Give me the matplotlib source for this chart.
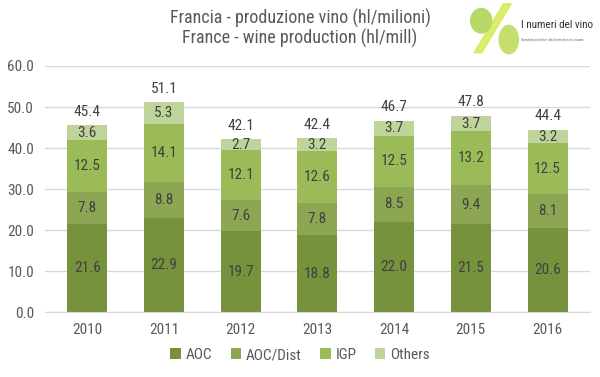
import matplotlib
matplotlib.use('Agg')
import matplotlib.pyplot as plt
from matplotlib.patches import Ellipse, Polygon
import numpy as np

# dati
years = ['2010', '2011', '2012', '2013', '2014', '2015', '2016']
aoc = [21.6, 22.9, 19.7, 18.8, 22.0, 21.5, 20.6]
aoc_dist = [7.8, 8.8, 7.6, 7.8, 8.5, 9.4, 8.1]
igp = [12.5, 14.1, 12.1, 12.6, 12.5, 13.2, 12.5]
others = [3.6, 5.3, 2.7, 3.2, 3.7, 3.7, 3.2]
totals = [45.4, 51.1, 42.1, 42.4, 46.7, 47.8, 44.4]

series = [('AOC', aoc, '#76923C'), ('AOC/Dist', aoc_dist, '#8CA653'),
          ('IGP', igp, '#9BBB59'), ('Others', others, '#BFD49B')]

plt.rcParams['font.family'] = ['Roboto Condensed', 'DejaVu Sans']
txt = '#404040'

fig = plt.figure(figsize=(6, 3.77), dpi=100)
ax = fig.add_axes([0.075, 0.172, 0.908, 0.653])

x = np.arange(len(years))
bottom = np.zeros(len(years))
for name, vals, col in series:
    ax.bar(x, vals, 0.52, bottom=bottom, color=col, label=name, zorder=2)
    for xi, b, v in zip(x, bottom, vals):
        ax.text(xi, b + v / 2, f'{v:.1f}', ha='center', va='center',
                fontsize=11, color=txt, zorder=3)
    bottom += np.array(vals)

for xi, t in zip(x, totals):
    ax.text(xi, bottom[xi] + 1.6, f'{t:.1f}', ha='center', va='bottom',
            fontsize=11, color=txt)

ax.set_ylim(0, 60)
ax.set_yticks(np.arange(0, 61, 10))
ax.set_yticklabels([f'{v:.1f}' for v in np.arange(0, 61, 10)])
ax.set_xlim(-0.55, 6.55)
ax.set_xticks(x)
ax.set_xticklabels(years)
ax.tick_params(axis='both', length=0, labelsize=11, colors='#595959')
ax.tick_params(axis='x', pad=8)
ax.tick_params(axis='y', pad=8)
ax.grid(axis='y', color='#D9D9D9', linewidth=1, zorder=0)
for s in ['top', 'right', 'left']:
    ax.spines[s].set_visible(False)
ax.spines['bottom'].set_color('#D9D9D9')

fig.text(0.5, 0.952, 'Francia - produzione vino (hl/milioni)', ha='center',
         va='center', fontsize=13, color='#595959')
fig.text(0.5, 0.897, 'France - wine production (hl/mill)', ha='center',
         va='center', fontsize=13, color='#595959')

# logo
fig.patches.append(Polygon([[0.79, 0.86], [0.803, 0.86], [0.852, 0.99], [0.839, 0.99]],
                           closed=True, transform=fig.transFigure, color='#D8EC5A', alpha=0.9))
fig.patches.append(Ellipse((0.802, 0.945), 0.035, 0.065, transform=fig.transFigure,
                           color='#B8D86A'))
fig.patches.append(Ellipse((0.848, 0.895), 0.032, 0.075, transform=fig.transFigure,
                           color='#C4DF6E'))
fig.text(0.868, 0.935, 'I numeri del vino', ha='left', va='center',
         fontsize=8, color='#333333')
fig.text(0.868, 0.895, 'Statistiche produttive, dati di mercato e di consumo',
         ha='left', va='center', fontsize=2.2, color='#666666')

leg = fig.legend(loc='center', bbox_to_anchor=(0.5, 0.058), ncol=4, frameon=False,
                 fontsize=11, handlelength=0.7, handleheight=0.7,
                 handletextpad=0.3, columnspacing=1.2)
for t in leg.get_texts():
    t.set_color('#595959')

fig.savefig('out.png', dpi=100)
